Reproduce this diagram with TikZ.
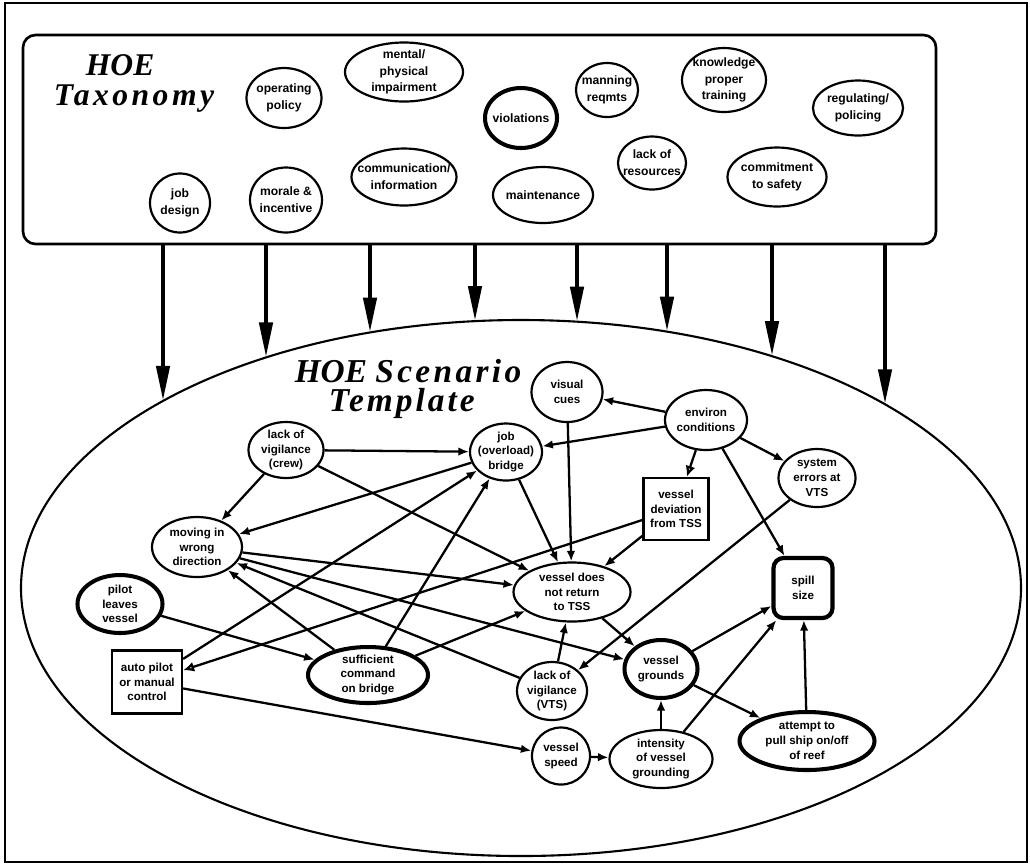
\documentclass[tikz,border=0pt]{standalone}
\usepackage{fontspec}
\setmainfont{Liberation Serif}
\setsansfont{Liberation Sans}
\usetikzlibrary{arrows.meta, shapes.geometric}

\begin{document}
\begin{tikzpicture}[x=0.02cm, y=-0.02cm, >={Latex[length=2.1mm, width=1.7mm]}]
  \tikzset{
   sz/.style 2 args={minimum width=#1*0.02cm, minimum height=#2*0.02cm},
   taxfont/.style={font=\sffamily\bfseries\fontsize{6.9}{9.5}\selectfont, align=center, inner sep=0pt},
   scnfont/.style={font=\sffamily\bfseries\fontsize{6.6}{8.4}\selectfont, align=center, inner sep=0pt},
   plain/.style={ellipse, draw, inner sep=0pt, line width=1.25pt},
   heavy/.style={plain, line width=2.3pt},
   sq/.style={rectangle, draw, inner sep=0pt, line width=1.25pt},
   spillbox/.style={rectangle, rounded corners=0.2cm, draw, inner sep=0pt, line width=2.4pt},
   tax/.style={label={[taxfont]center:#1}},
   scn/.style={label={[scnfont]center:#1}},
   link/.style={->, line width=1.3pt},
   hatched/.style={line width=1.3pt, -{Latex[length=2.2mm, width=2mm, fill=gray!40]}},
   feed/.style={line width=2.5pt, -{Triangle[length=7mm, width=2.6mm]}},
   hoetitle/.style 2 args={font=\bfseries\itshape\fontsize{#1}{#2}\selectfont, align=left, inner sep=0pt},
  }

  \useasboundingbox (0,0) rectangle (1030,867);
  \draw [line width=0.9pt] (5,3) rectangle (1027,862);

  % taxonomy
  \node (taxbox) [rectangle, rounded corners=0.25cm, draw, line width=1.5pt, sz={913}{209}]
   at (479.5,139.5) {};
  \node (taxtitle) [hoetitle={18}{17}] at (134,83)
   {\hspace*{0.64cm}HOE\\\addfontfeature{LetterSpace=11}Taxonomy};

  \node (oper)      [plain, sz={75}{60},  tax={operating\\policy}]            at (284,98)  {};
  \node (mental)    [plain, sz={118}{59}, tax={mental/\\physical\\impairment}] at (404,72)  {};
  \node (jobdes)    [plain, sz={60}{59},  tax={job\\design}]                  at (180,203) {};
  \node (morale)    [plain, sz={72}{65},  tax={morale \&\\incentive}]         at (286,200) {};
  \node (comm)      [plain, sz={105}{57}, tax={communication/\\information}]  at (404,177) {};
  \node (viol)      [heavy, sz={72}{60},  tax={violations}]                   at (521,118) {};
  \node (maint)     [plain, sz={100}{56}, tax={maintenance}]                  at (543,195) {};
  \node (manning)   [plain, sz={62}{54},  tax={manning\\reqmts}]              at (607,90)  {};
  \node (resources) [plain, sz={68}{53},  tax={lack of\\resources}]           at (652,163) {};
  \node (knowledge) [plain, sz={84}{64},  tax={knowledge\\proper\\training}]  at (724,80)  {};
  \node (safety)    [plain, sz={99}{59},  tax={commitment\\to safety}]        at (777,177) {};
  \node (policing)  [plain, sz={90}{55},  tax={regulating/\\policing}]        at (858,108) {};

  % scenario template
  \node (scen) [ellipse, draw, line width=1.2pt, sz={1000}{536}] at (521,588) {};
  \node (scentitle) [hoetitle={19}{17}] at (408,389)
   {HOE \addfontfeature{LetterSpace=10}Scenario\\
    \hspace*{0.68cm}\addfontfeature{LetterSpace=9}Template};

  \foreach \cx [count=\i] in {163,266,370,475,577,667,772,885} {
   \pgfmathsetmacro{\cy}{588-268*sqrt(1-((\cx-521)/500)^2)}
   \coordinate (t\i) at (\cx,\cy);
   \draw [feed] (taxbox.south -| t\i) -- (t\i);
  }

  \node (visual)    [plain, sz={71}{60},     scn={visual\\cues}]                    at (567,392) {};
  \node (environ)   [plain, sz={82}{60},     scn={environ\\conditions}]             at (706,420) {};
  \node (crew)      [plain, sz={75}{56},     scn={lack of\\vigilance\\(crew)}]      at (286,450) {};
  \node (job)       [plain, sz={72}{57},     scn={job\\(overload)\\bridge}]         at (506,452) {};
  \node (syserr)    [plain, sz={77}{58},     scn={system\\errors at\\VTS}]          at (817,478) {};
  \node (deviation) [sq, sz={65}{62},        scn={vessel\\deviation\\from TSS}]     at (676,509) {};
  \node (moving)    [plain, sz={90}{60},     scn={moving in\\wrong\\direction}]     at (197,547) {};
  \node (notreturn) [plain, sz={117}{59},    scn={vessel does\\not return\\to TSS}] at (572,592) {};
  \node (spill)     [spillbox, sz={59}{60},  scn={spill\\size}]                     at (803,588) {};
  \node (pilot)     [heavy, sz={85}{58},     scn={pilot\\leaves\\vessel}]           at (120,604) {};
  \node (auto)      [sq, sz={70}{63},        scn={auto pilot\\or manual\\control}]  at (147,682) {};
  \node (command)   [heavy, sz={120}{56},    scn={sufficient\\command\\on bridge}]  at (368,675) {};
  \node (vigvts)    [plain, sz={70}{58},     scn={lack of\\vigilance\\(VTS)}]       at (552,691) {};
  \node (grounds)   [heavy, sz={73}{58},     scn={vessel\\grounds}]                 at (661,669) {};
  \node (attempt)   [heavy, sz={135}{58},    scn={attempt to\\pull ship on/off\\of reef}] at (807,741) {};
  \node (speed)     [plain, sz={58}{57},     scn={vessel\\speed}]                   at (561,756) {};
  \node (intensity) [plain, sz={103}{58},    scn={intensity\\of vessel\\grounding}] at (661,759) {};

  \foreach \a/\b in {
   environ/visual, environ/job, environ/syserr, environ/spill,
   crew/job, crew/moving, crew/notreturn,
   job/moving, job/notreturn, visual/notreturn, deviation/notreturn,
   syserr/vigvts, moving/notreturn, moving/grounds,
   vigvts/moving, vigvts/notreturn,
   command/moving, command/job, command/notreturn,
   auto/job, auto/speed, pilot/command,
   notreturn/grounds, grounds/spill, grounds/attempt,
   intensity/grounds, intensity/spill, attempt/spill, speed/intensity} {
   \draw [link] (\a) -- (\b);
  }
  \draw [hatched] (environ) -- (deviation);
  \draw [hatched] (deviation) -- (auto);
\end{tikzpicture}
\end{document}
